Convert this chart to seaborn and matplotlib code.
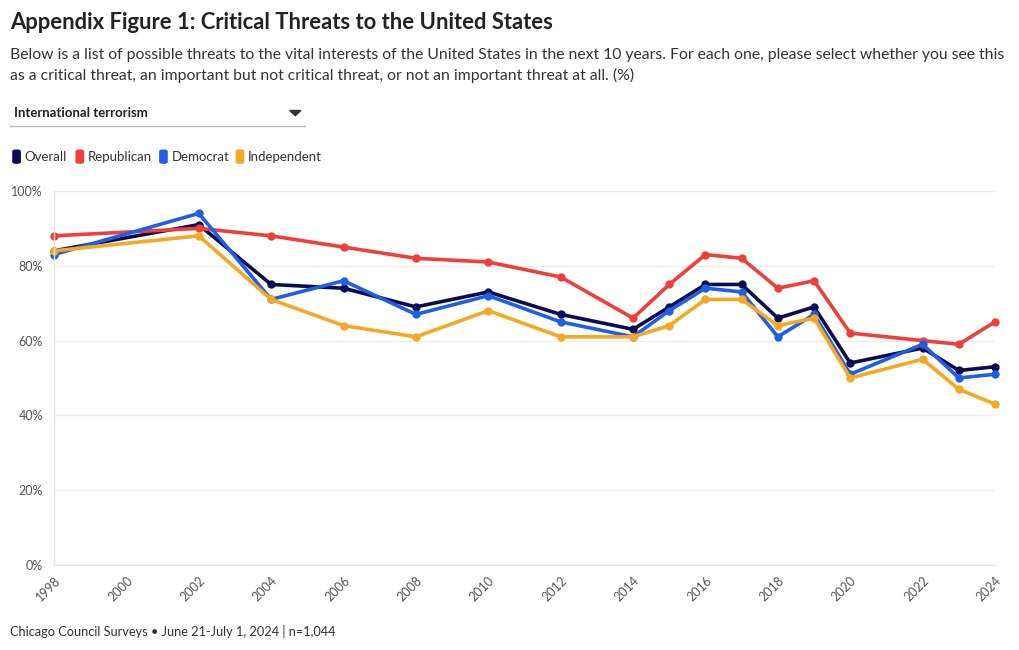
import numpy as np
import pandas as pd
import matplotlib
matplotlib.use("Agg")
import matplotlib.pyplot as plt
import seaborn as sns
from matplotlib.patches import FancyBboxPatch
from matplotlib.ticker import PercentFormatter

# --- data ---
years = [1998, 2002, 2004, 2006, 2008, 2010, 2012, 2014, 2015, 2016,
         2017, 2018, 2019, 2020, 2022, 2023, 2024]
overall = [84, 91, 75, 74, 69, 73, 67, 63, 69, 75, 75, 66, 69, 54, 58, 52, 53]
republican = [88, 90, 88, 85, 82, 81, 77, 66, 75, 83, 82, 74, 76, 62, 60, 59, 65]
democrat = [83, 94, 71, 76, 67, 72, 65, 61, 68, 74, 73, 61, 67, 51, 59, 50, 51]
independent = [84, 88, 71, 64, 61, 68, 61, 61, 64, 71, 71, 64, 66, 50, 55, 47, 43]

groups = ["Overall", "Republican", "Democrat", "Independent"]
colors = ["#0b0b52", "#f03e3a", "#1f5fe6", "#f7a823"]
x_ticks = list(range(1998, 2025, 2))

df = pd.DataFrame({"year": years, "Overall": overall, "Republican": republican,
                   "Democrat": democrat, "Independent": independent})
long_df = df.melt(id_vars="year", var_name="group", value_name="pct")

# --- figure ---
sns.set_theme(style="white")
plt.rcParams["font.family"] = ["Lato", "DejaVu Sans"]

fig = plt.figure(figsize=(10.2, 6.5), dpi=100)
ax = fig.add_axes([0.0529, 0.1308, 0.9226, 0.5754])

sns.lineplot(data=long_df, x="year", y="pct", hue="group", hue_order=groups,
             palette=colors, marker="o", markersize=6, markeredgewidth=0,
             linewidth=2.6, legend=False, ax=ax)
for line in ax.get_lines():
    line.set_clip_on(False)

ax.set_xlim(1998, 2024)
ax.set_ylim(0, 100)
ax.set_yticks([0, 20, 40, 60, 80, 100])
ax.yaxis.set_major_formatter(PercentFormatter(decimals=0))
ax.set_xticks(x_ticks)
ax.set_xticklabels([str(y) for y in x_ticks], rotation=45, ha="right",
                   rotation_mode="anchor")
ax.set_xlabel("")
ax.set_ylabel("")
ax.grid(axis="y", color="#ececec", linewidth=1)
for s in ["top", "right"]:
    ax.spines[s].set_visible(False)
for s in ["left", "bottom"]:
    ax.spines[s].set_color("#e6e6e6")
    ax.spines[s].set_linewidth(1)
ax.tick_params(axis="x", length=4, color="#e0e0e0", labelsize=9, labelcolor="#555555", pad=3)
ax.tick_params(axis="y", length=0, labelsize=9, labelcolor="#555555", pad=8)

# --- header text ---
fig.text(0.010, 0.965, "Appendix Figure 1: Critical Threats to the United States",
         fontsize=15.8, fontweight="bold", color="#222222", va="center")
fig.text(0.010, 0.916, "Below is a list of possible threats to the vital interests of the United States in the next 10 years. For each one, please select whether you see this",
         fontsize=11.3, color="#333333", va="center")
fig.text(0.010, 0.884, "as a critical threat, an important but not critical threat, or not an important threat at all. (%)",
         fontsize=11.3, color="#333333", va="center")

# dropdown
fig.text(0.014, 0.826, "International terrorism", fontsize=9.5, fontweight="bold",
         color="#222222", va="center")
fig.add_artist(plt.Line2D([0.010, 0.299], [0.806, 0.806], color="#bbbbbb", linewidth=1))
fig.add_artist(plt.Polygon([[0.284, 0.830], [0.295, 0.830], [0.2895, 0.822]],
                           closed=True, color="#333333"))

# legend
leg_x = [0.012, 0.074, 0.156, 0.231]
for x0, name, c in zip(leg_x, groups, colors):
    fig.add_artist(FancyBboxPatch((x0, 0.748), 0.0085, 0.022,
                                  boxstyle="round,pad=0,rounding_size=0.003",
                                  transform=fig.transFigure, color=c, linewidth=0))
    fig.text(x0 + 0.012, 0.759, name, fontsize=9.5, color="#333333", va="center")

# footer
fig.text(0.010, 0.028, "Chicago Council Surveys \u2022 June 21-July 1, 2024 | n=1,044",
         fontsize=9.2, color="#333333", va="center")

fig.savefig("out.png", dpi=100)
